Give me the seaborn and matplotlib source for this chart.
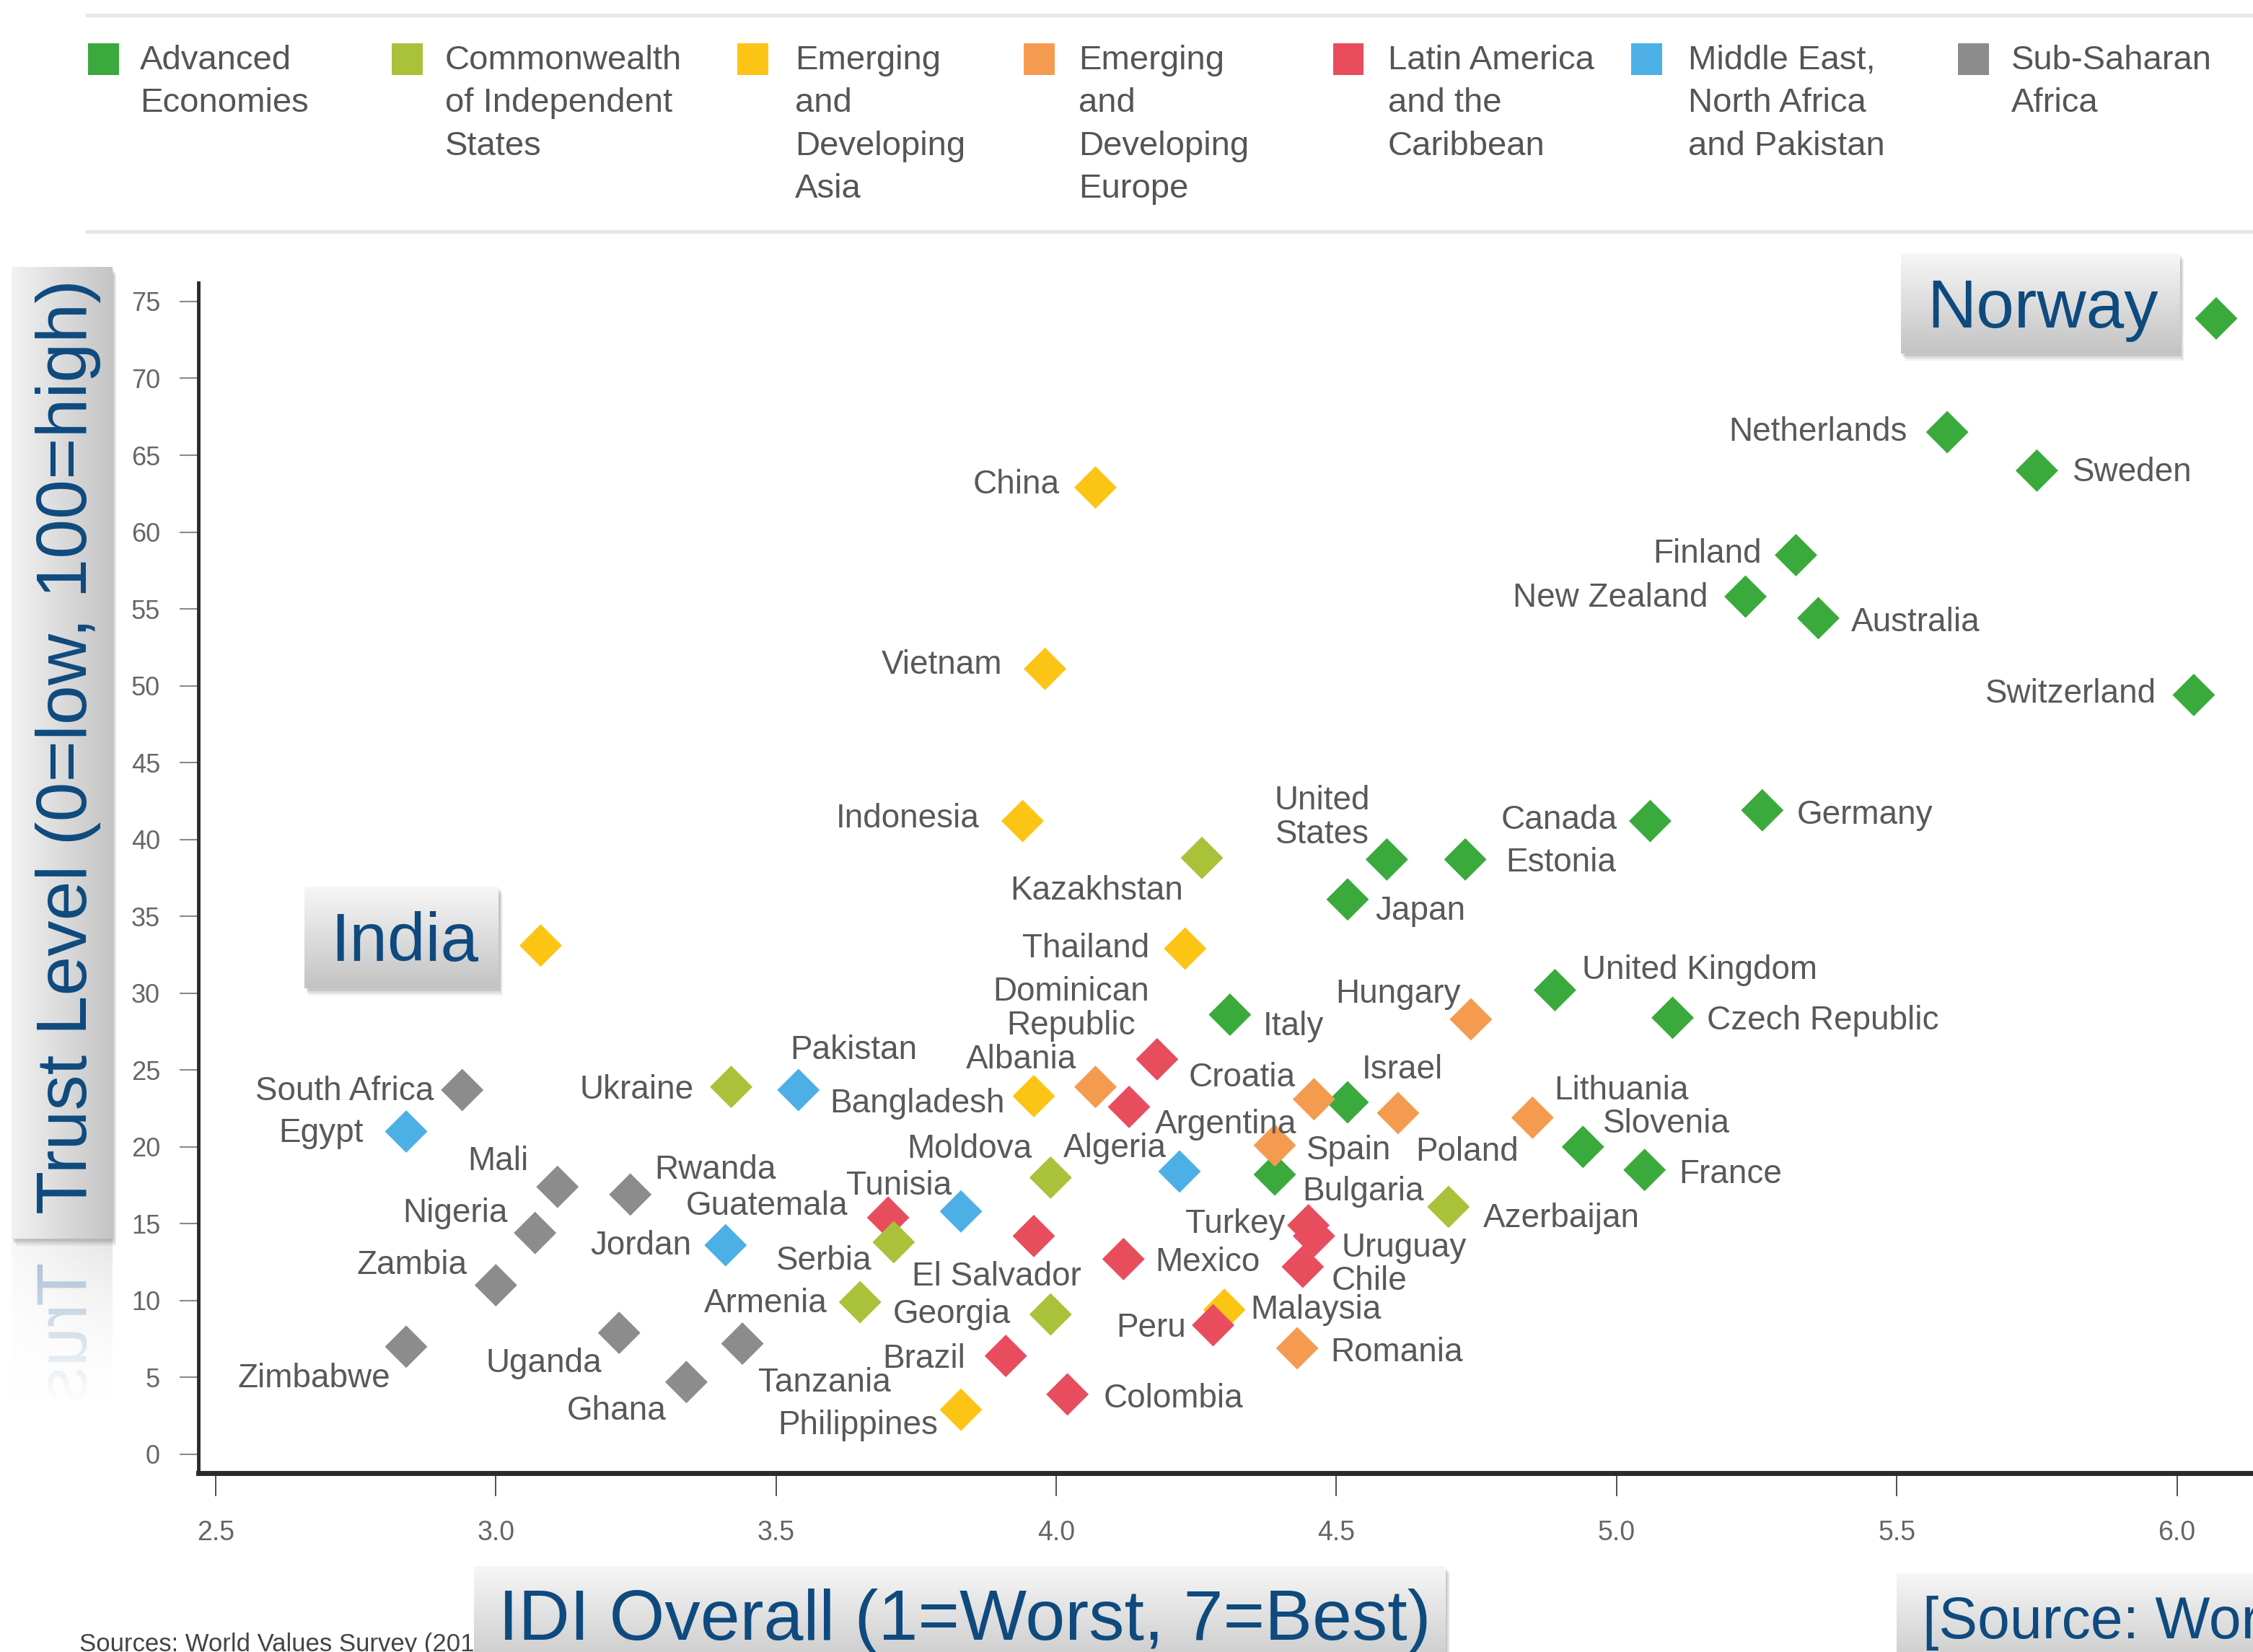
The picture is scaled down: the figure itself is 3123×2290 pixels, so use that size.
import numpy as np
import pandas as pd
import matplotlib
matplotlib.use("Agg")
import matplotlib.pyplot as plt
import seaborn as sns
from matplotlib.patches import Rectangle, PathPatch
from matplotlib.textpath import TextPath
from matplotlib.font_manager import FontProperties
from matplotlib.transforms import Affine2D
from matplotlib.colors import LinearSegmentedColormap

# ---------------- data ----------------
regions = ["Advanced Economies", "Commonwealth of Independent States",
           "Emerging and Developing Asia", "Emerging and Developing Europe",
           "Latin America and the Caribbean", "Middle East, North Africa and Pakistan",
           "Sub-Saharan Africa"]
legend_labels = ["Advanced\nEconomies", "Commonwealth\nof Independent\nStates",
                 "Emerging\nand\nDeveloping\nAsia", "Emerging\nand\nDeveloping\nEurope",
                 "Latin America\nand the\nCaribbean", "Middle East,\nNorth Africa\nand Pakistan",
                 "Sub-Saharan\nAfrica"]
region_colors = ["#3aaa3d", "#a9c23a", "#fcc515", "#f59b50", "#e84d5e", "#4cb0e6", "#8c8c8c"]

adv_countries = ["Norway", "Netherlands", "Sweden", "Finland", "New Zealand", "Australia",
                 "Switzerland", "Germany", "Canada", "Estonia", "United States", "Japan",
                 "United Kingdom", "Czech Republic", "Italy", "Israel", "Slovenia", "France", "Spain"]
adv_idi = [6.07, 5.59, 5.75, 5.32, 5.23, 5.36, 6.03, 5.26, 5.06, 4.73, 4.59, 4.52,
           4.89, 5.10, 4.31, 4.52, 4.94, 5.05, 4.39]
adv_trust = [73.9, 66.5, 64.0, 58.5, 55.8, 54.4, 49.4, 41.9, 41.2, 38.7, 38.7, 36.1,
             30.2, 28.4, 28.6, 22.9, 20.0, 18.5, 18.2]

asia_countries = ["China", "Vietnam", "Indonesia", "India", "Thailand", "Bangladesh",
                  "Malaysia", "Philippines"]
asia_idi = [4.07, 3.98, 3.94, 3.08, 4.23, 3.96, 4.30, 3.83]
asia_trust = [62.9, 51.1, 41.2, 33.1, 32.9, 23.3, 9.4, 2.9]

eur_countries = ["Hungary", "Albania", "Croatia", "Bulgaria", "Poland", "Lithuania", "Romania"]
eur_idi = [4.74, 4.07, 4.46, 4.39, 4.61, 4.85, 4.43]
eur_trust = [28.3, 23.9, 23.1, 20.1, 22.2, 21.9, 6.9]

lat_countries = ["Dominican Republic", "Argentina", "Guatemala", "El Salvador", "Mexico",
                 "Turkey", "Uruguay", "Chile", "Peru", "Brazil", "Colombia"]
lat_idi = [4.18, 4.13, 3.70, 3.96, 4.12, 4.45, 4.46, 4.44, 4.28, 3.91, 4.02]
lat_trust = [25.7, 22.6, 15.4, 14.2, 12.7, 14.9, 14.2, 12.2, 8.4, 6.4, 3.9]

cis_countries = ["Kazakhstan", "Ukraine", "Moldova", "Serbia", "Armenia", "Georgia", "Azerbaijan"]
cis_idi = [4.26, 3.42, 3.99, 3.71, 3.65, 3.99, 4.70]
cis_trust = [38.8, 23.9, 18.0, 13.8, 9.9, 9.1, 16.1]

me_countries = ["Egypt", "Pakistan", "Jordan", "Tunisia", "Algeria"]
me_idi = [2.84, 3.54, 3.41, 3.83, 4.22]
me_trust = [21.0, 23.7, 13.6, 15.8, 18.4]

ssa_countries = ["South Africa", "Mali", "Rwanda", "Nigeria", "Zambia", "Zimbabwe",
                 "Uganda", "Ghana", "Tanzania"]
ssa_idi = [2.94, 3.11, 3.24, 3.07, 3.00, 2.84, 3.22, 3.34, 3.44]
ssa_trust = [23.7, 17.4, 16.9, 14.4, 11.0, 7.0, 7.9, 4.7, 7.2]

y_ticks = [0, 5, 10, 15, 20, 25, 30, 35, 40, 45, 50, 55, 60, 65, 70, 75]
x_ticks = [2.5, 3.0, 3.5, 4.0, 4.5, 5.0, 5.5, 6.0]

x_title = "IDI Overall (1=Worst, 7=Best)"
y_title = "Trust Level (0=low, 100=high)"
source_text = "[Source: World Economic Forum]"
footnote = "Sources: World Values Survey (2010-2014); World Economic Forum"

# ---------------- frame ----------------
groups = [(regions[0], adv_countries, adv_idi, adv_trust),
          (regions[2], asia_countries, asia_idi, asia_trust),
          (regions[3], eur_countries, eur_idi, eur_trust),
          (regions[4], lat_countries, lat_idi, lat_trust),
          (regions[1], cis_countries, cis_idi, cis_trust),
          (regions[5], me_countries, me_idi, me_trust),
          (regions[6], ssa_countries, ssa_idi, ssa_trust)]
rows = []
for reg, names, xs, ys in groups:
    for n, xv, yv in zip(names, xs, ys):
        rows.append({"country": n, "idi": xv, "trust": yv, "region": reg})
df = pd.DataFrame(rows)

# label offsets (reference screen px: dx right, dy up) and alignment
LABEL_OFF = {
    "Netherlands": (-28, 2, "right"), "Sweden": (25, 1, "left"), "Finland": (-24, 3, "right"),
    "New Zealand": (-26, 1, "right"), "Australia": (23, -1, "left"),
    "Switzerland": (-26, 3, "right"), "Germany": (24, -1, "left"), "Canada": (-23, 3, "right"),
    "Estonia": (28, 0, "left"), "United States": (-45, 29, "center"), "Japan": (19, -6, "left"),
    "United Kingdom": (19, 16, "left"), "Czech Republic": (24, 0, "left"),
    "Italy": (23, -6, "left"), "Israel": (10, 25, "left"), "Slovenia": (14, 18, "left"),
    "France": (24, -1, "left"), "Spain": (22, 19, "left"),
    "Bulgaria": (19, -30, "left"), "Albania": (-13, 21, "right"), "Croatia": (-13, 17, "right"),
    "Hungary": (-7, 20, "right"), "Poland": (12, -25, "left"), "Lithuania": (15, 21, "left"),
    "Romania": (23, -1, "left"),
    "Dominican Republic": (-60, 35, "center"), "Argentina": (18, -10, "left"),
    "Guatemala": (-28, 10, "right"), "El Salvador": (-85, -26, "left"),
    "Mexico": (22, 0, "left"), "Turkey": (-16, 3, "right"), "Uruguay": (19, -6, "left"),
    "Chile": (20, -8, "left"), "Peru": (-19, 0, "right"), "Brazil": (-28, 0, "right"),
    "Colombia": (25, -1, "left"),
    "China": (-25, 4, "right"), "Vietnam": (-30, 5, "right"), "Indonesia": (-30, 4, "right"),
    "Thailand": (-25, 2, "right"), "Bangladesh": (-20, -3, "right"),
    "Malaysia": (18, 2, "left"), "Philippines": (-16, -9, "right"),
    "Kazakhstan": (-13, -21, "right"), "Ukraine": (-26, 0, "right"),
    "Moldova": (-13, 22, "right"), "Serbia": (-15, -11, "right"),
    "Armenia": (-23, 1, "right"), "Georgia": (-28, 2, "right"), "Azerbaijan": (24, -6, "left"),
    "Egypt": (-30, 1, "right"), "Pakistan": (-6, 30, "left"), "Jordan": (-24, 2, "right"),
    "Tunisia": (-80, 20, "left"), "Algeria": (-81, 18, "left"),
    "South Africa": (-20, 1, "right"), "Mali": (-20, 20, "right"), "Rwanda": (17, 19, "left"),
    "Nigeria": (-19, 16, "right"), "Zambia": (-20, 16, "right"),
    "Zimbabwe": (-11, -20, "right"), "Uganda": (-12, -19, "right"),
    "Ghana": (-14, -18, "right"), "Tanzania": (11, -25, "left"),
}
DISPLAY_NAME = {"United States": "United\nStates", "Dominican Republic": "Dominican\nRepublic"}

# ---------------- figure ----------------
sns.set_theme(style="white")
plt.rcParams["font.family"] = ["Liberation Sans", "DejaVu Sans"]

W, H = 3123, 2290
SC = W / 1568.0          # reference-screen px -> output px
K = SC * 72 / 100.0      # reference-screen px -> points

def fx(px):
    return px * SC / W

def fy(py):
    return 1 - py * SC / H

def frect(x0, y0, x1, y1):
    return [fx(x0), fy(y1), fx(x1) - fx(x0), fy(y0) - fy(y1)]

fig = plt.figure(figsize=(W / 100, H / 100), dpi=100)
fig.patch.set_facecolor("white")

ax = fig.add_axes([fx(138), fy(1025), (6.3 - 2.469) * 390 * SC / W, fy(197) - fy(1025)])
ax.set_zorder(0)
pal = dict(zip(regions, region_colors))
sns.scatterplot(data=df, x="idi", y="trust", hue="region", palette=pal, marker="D",
                s=900, linewidth=0, legend=False, ax=ax, zorder=3)
ax.set_xlim(2.469, 6.3)
ax.set_ylim(-1.2, 76.2)
ax.set_xticks(x_ticks)
ax.set_xticklabels([f"{v:.1f}" for v in x_ticks])
ax.set_yticks(y_ticks)
ax.set_xlabel("")
ax.set_ylabel("")
for s in ["top", "right"]:
    ax.spines[s].set_visible(False)
ax.spines["left"].set_linewidth(3.5)
ax.spines["left"].set_color("#2b2b2b")
ax.spines["bottom"].set_linewidth(5)
ax.spines["bottom"].set_color("#2b2b2b")
ax.tick_params(axis="y", direction="out", length=19, width=1.5, color="#8a8a8a", pad=19,
               labelsize=26, labelcolor="#666666", left=True)
ax.tick_params(axis="x", direction="out", length=23, width=1.2, color="#333333", pad=24,
               labelsize=27, labelcolor="#666666", bottom=True)
ax.grid(False)
ax.set_facecolor("white")

cap_half = 0.716 * 33 / 2
for _, r in df.iterrows():
    if r["country"] not in LABEL_OFF:
        continue
    dx, dy, ha = LABEL_OFF[r["country"]]
    txt = DISPLAY_NAME.get(r["country"], r["country"])
    if "\n" in txt:
        ax.annotate(txt, (r["idi"], r["trust"]), xytext=(dx * K, dy * K),
                    textcoords="offset points", ha=ha, va="center", fontsize=33,
                    color="#595959", linespacing=1.08, zorder=4)
    else:
        ax.annotate(txt, (r["idi"], r["trust"]), xytext=(dx * K, dy * K - cap_half),
                    textcoords="offset points", ha=ha, va="baseline", fontsize=33,
                    color="#595959", zorder=4)

# ---------------- legend (top) ----------------
for yy in (21, 321):
    fig.add_artist(plt.Line2D([120 / W, 1], [1 - yy / H, 1 - yy / H], transform=fig.transFigure,
                              color="#e6e6e6", lw=3.6, zorder=1))
sq_x = [143, 564, 1043, 1440, 1869, 2282, 2735]
tx_x = [194, 617, 1102, 1495, 1924, 2340, 2788]
sq = 43
for lab, col, sx, tx in zip(legend_labels, region_colors, sq_x, tx_x):
    fig.add_artist(Rectangle(((sx - sq / 2) / W, 1 - (82 + sq / 2) / H), sq / W, sq / H,
                             transform=fig.transFigure, color=col, lw=0, zorder=2))
    fig.text(tx / W, 1 - 62 / H, lab, ha="left", va="top", fontsize=34, color="#555555",
             linespacing=1.45, zorder=2)

# ---------------- gradient boxes ----------------
def gradient_box(x0, y0, x1, y1, vertical=True, c0="#f7f7f7", c1="#c3c3c3", z=5):
    for off, a in [(5, 0.06), (3.5, 0.08), (2, 0.10)]:
        r = frect(x0 + off * 0.6, y0 + off, x1 + off * 0.6, y1 + off)
        fig.add_artist(Rectangle((r[0], r[1]), r[2], r[3], transform=fig.transFigure,
                                 color="black", alpha=a, lw=0, zorder=z - 0.5))
    bax = fig.add_axes(frect(x0, y0, x1, y1))
    bax.set_zorder(z)
    g = np.linspace(0, 1, 256)
    img = g[:, None] if vertical else g[None, :]
    cmap = LinearSegmentedColormap.from_list("g", [c0, c1])
    bax.imshow(img, aspect="auto", cmap=cmap, extent=[0, 1, 0, 1], origin="upper",
               interpolation="bilinear")
    bax.set_axis_off()
    return bax

BLUE = "#0e4a7e"
gradient_box(1323, 176, 1517, 246)
fig.text(fx(1341), fy(228), "Norway", ha="left", va="baseline", fontsize=68, color=BLUE, zorder=6)
gradient_box(212, 617, 347, 688)
fig.text(fx(230), fy(669), "India", ha="left", va="baseline", fontsize=68, color=BLUE, zorder=6)

# y title box (horizontal gradient)
gradient_box(8, 186, 78, 862, vertical=False, c0="#f2f2f2", c1="#c4c4c4")
fig.text(fx(60), fy(845), y_title, rotation=90, rotation_mode="anchor", ha="left",
         va="baseline", fontsize=71, color=BLUE, zorder=6)

# reflection of y title box
rax = fig.add_axes(frect(8, 862, 78, 1010))
rax.set_zorder(3.9)
g2 = np.linspace(0, 1, 256)
refl = np.ones((256, 256, 4))
col_grad = LinearSegmentedColormap.from_list("r", ["#f2f2f2", "#cfcfcf"])(g2)
refl[:, :, :3] = col_grad[None, :, :3]
refl[:, :, 3] = (0.55 * (1 - g2))[:, None]
rax.imshow(refl, aspect="auto", extent=[0, 1, 0, 1], origin="upper")
rax.set_axis_off()
fp = FontProperties(family="Liberation Sans")
tp = TextPath((0, 0), "Trust", size=71 * 100 / 72, prop=fp)
tr = Affine2D().rotate_deg(90).scale(1, -1).translate(60 * SC, H - 879 * SC)
fig.add_artist(PathPatch(tp, transform=tr, facecolor="#9db6cf", lw=0, zorder=4))
wax = fig.add_axes(frect(4, 862, 84, 1012))
wax.set_zorder(4.5)
wimg = np.ones((256, 2, 4))
wimg[:, :, 3] = np.clip(np.linspace(0.05, 1.3, 256), 0, 1)[:, None]
wax.imshow(wimg, aspect="auto", extent=[0, 1, 0, 1], origin="upper")
wax.set_axis_off()

# footnote partially hidden behind x title box
fig.text(fx(55), fy(1136), footnote, ha="left", va="top", fontsize=25, color="#444444", zorder=4)

# x title box
gradient_box(330, 1090, 1006, 1170)
fig.text(fx(347), fy(1141), x_title, ha="left", va="baseline", fontsize=71, color=BLUE, zorder=6)

# source box
gradient_box(1320, 1095, 1600, 1170)
fig.text(fx(1338), fy(1140), source_text, ha="left", va="baseline", fontsize=58, color=BLUE, zorder=6)

fig.savefig("out.png", dpi=100, facecolor="white")
